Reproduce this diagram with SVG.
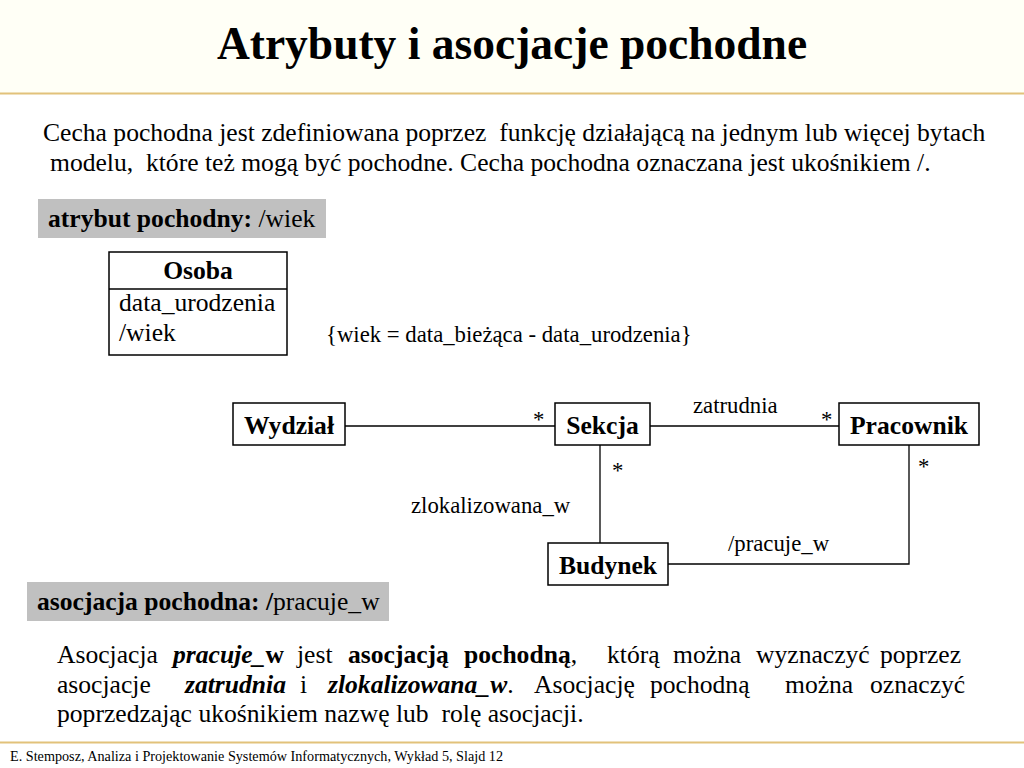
<svg xmlns="http://www.w3.org/2000/svg" width="1024" height="768" viewBox="0 0 1024 768">
<style>
text{font-family:"Liberation Serif","Times New Roman",serif;fill:#000}
.b{font-weight:bold}
.bi{font-weight:bold;font-style:italic}
.p{font-size:25.6px}
.n{font-size:25.6px;font-weight:bold;text-anchor:middle}
.l{font-size:22.76px}
.box{fill:#fff;stroke:#000;stroke-width:1.5}
.con{fill:none;stroke:#000;stroke-width:1.3}
.tag{fill:#c0c0c0}
</style>
<rect x="0" y="0" width="1024" height="768" fill="#fff"/>
<rect x="0" y="0" width="1024" height="93" fill="#fffff6"/>
<line x1="0" y1="93.5" x2="1024" y2="93.5" stroke="#e2c27a" stroke-width="2"/>
<text x="512" y="59" class="b" font-size="45.5" text-anchor="middle">Atrybuty i asocjacje pochodne</text>
<text x="43" y="141" class="p">Cecha pochodna jest zdefiniowana poprzez&#160; funkcję działającą na jednym lub więcej bytach</text>
<text x="50" y="171" class="p">modelu,&#160; które też mogą być pochodne. Cecha pochodna oznaczana jest ukośnikiem /.</text>
<g id="tag-atrybut">
<rect class="tag" x="38" y="199" width="288" height="39"/>
<text x="48" y="227" class="p"><tspan class="b">atrybut pochodny: </tspan>/wiek</text>
</g>
<g id="osoba">
<rect class="box" x="109" y="252" width="178" height="103"/>
<line x1="109" y1="289" x2="287" y2="289" stroke="#000" stroke-width="1.5"/>
<text x="198" y="279" class="n">Osoba</text>
<text x="119" y="311" class="p">data_urodzenia</text>
<text x="119" y="341" class="p">/wiek</text>
</g>
<text x="326" y="342" class="l">{wiek = data_bieżąca - data_urodzenia}</text>
<g id="connectors">
<line class="con" x1="345" y1="426" x2="555" y2="426"/>
<line class="con" x1="650" y1="426" x2="839" y2="426"/>
<line class="con" x1="600" y1="445" x2="600" y2="543"/>
<polyline class="con" points="909,445 909,564 668,564"/>
<text x="533" y="427" class="l">*</text>
<text x="693" y="413" class="l">zatrudnia</text>
<text x="821" y="427" class="l">*</text>
<text x="612" y="478" class="l">*</text>
<text x="918" y="474" class="l">*</text>
<text x="411" y="513" class="l">zlokalizowana_w</text>
<text x="728" y="551" class="l">/pracuje_w</text>
</g>
<g id="wydzial">
<rect class="box" x="233" y="403" width="112" height="42"/>
<text x="289" y="434" class="n">Wydział</text>
</g>
<g id="sekcja">
<rect class="box" x="555" y="403" width="95" height="42"/>
<text x="602.5" y="434" class="n">Sekcja</text>
</g>
<g id="pracownik">
<rect class="box" x="839" y="403" width="140" height="42"/>
<text x="909" y="434" class="n">Pracownik</text>
</g>
<g id="budynek">
<rect class="box" x="548" y="543" width="120" height="42"/>
<text x="608" y="574" class="n">Budynek</text>
</g>
<g id="tag-asocjacja">
<rect class="tag" x="27" y="582" width="362" height="39"/>
<text x="37" y="610" class="p"><tspan class="b">asocjacja pochodna: /</tspan>pracuje_w</text>
</g>
<text y="663" class="p"><tspan x="57">Asocjacja</tspan><tspan x="173" class="bi">pracuje_</tspan><tspan class="b">w</tspan><tspan x="297">jest</tspan><tspan x="348" class="b">asocjacją</tspan><tspan x="464" class="b">pochodną</tspan><tspan>,</tspan><tspan x="607">którą</tspan><tspan x="673">można</tspan><tspan x="756">wyznaczyć</tspan><tspan x="880">poprzez</tspan></text>
<text y="693" class="p"><tspan x="57">asocjacje</tspan><tspan x="185" class="bi">zatrudnia</tspan><tspan x="300">i</tspan><tspan x="328" class="bi">zlokalizowana_w</tspan><tspan>.</tspan><tspan x="534">Asocjację</tspan><tspan x="650">pochodną</tspan><tspan x="785">można</tspan><tspan x="870">oznaczyć</tspan></text>
<text x="57" y="722" class="p">poprzedzając ukośnikiem nazwę lub&#160; rolę asocjacji.</text>
<line x1="0" y1="742.5" x2="1024" y2="742.5" stroke="#e2c27a" stroke-width="2"/>
<text x="10" y="761" font-size="14.2">E. Stemposz, Analiza i Projektowanie Systemów Informatycznych, Wykład 5, Slajd 12</text>
</svg>
